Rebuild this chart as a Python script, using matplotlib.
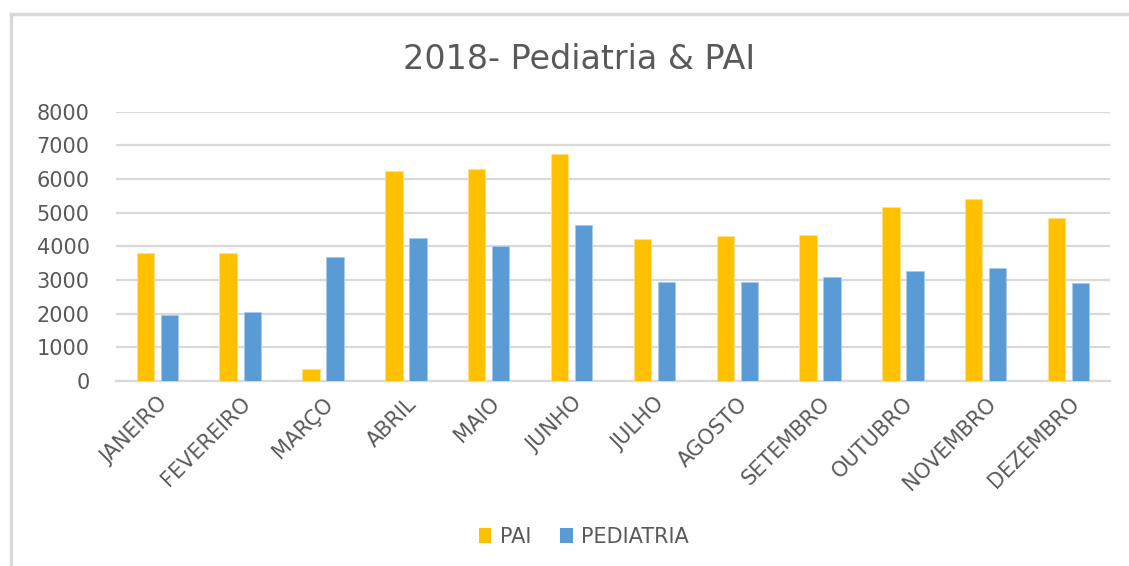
import numpy as np
import matplotlib
matplotlib.use("Agg")
import matplotlib.pyplot as plt
from matplotlib.lines import Line2D
from matplotlib.patches import Patch

# data
meses = ["JANEIRO", "FEVEREIRO", "MARÇO", "ABRIL", "MAIO", "JUNHO",
         "JULHO", "AGOSTO", "SETEMBRO", "OUTUBRO", "NOVEMBRO", "DEZEMBRO"]
pai = [3790, 3790, 355, 6220, 6290, 6745, 4200, 4300, 4340, 5160, 5415, 4850]
pediatria = [1950, 2050, 3680, 4230, 4010, 4635, 2940, 2940, 3100, 3275, 3355, 2900]
y_ticks = [0, 1000, 2000, 3000, 4000, 5000, 6000, 7000, 8000]

# look
C_PAI = "#FFC000"
C_PED = "#5B9BD5"
C_GRID = "#D9D9D9"
C_TEXT = "#595959"
BAR_W = 0.21
OFFSET = 0.145

plt.rcParams["font.family"] = ["DejaVu Sans"]

fig = plt.figure(figsize=(11.29, 5.66), dpi=100)
ax = fig.add_axes([0.1027, 0.327, 0.8805, 0.476])

x = np.arange(len(meses))
ax.bar(x - OFFSET, pai, width=BAR_W, color=C_PAI, edgecolor="#FFE08A", linewidth=0.6, zorder=3, label="PAI")
ax.bar(x + OFFSET, pediatria, width=BAR_W, color=C_PED, edgecolor="#A9CBEA", linewidth=0.6, zorder=3, label="PEDIATRIA")

ax.set_xlim(-0.5, len(meses) - 0.5)
ax.set_ylim(0, 8000)
ax.set_yticks(y_ticks)
ax.set_yticklabels([str(v) for v in y_ticks], fontsize=15, color=C_TEXT)
ax.yaxis.grid(True, color=C_GRID, linewidth=1.6, zorder=0)
ax.set_axisbelow(True)
ax.set_xticks(x)
ax.set_xticklabels(meses, rotation=45, ha="right", rotation_mode="anchor", fontsize=15, color=C_TEXT)
ax.tick_params(axis="both", length=0)
ax.tick_params(axis="y", pad=19)
ax.tick_params(axis="x", pad=9)
for s in ["top", "right", "left"]:
    ax.spines[s].set_visible(False)
ax.spines["bottom"].set_color(C_GRID)
ax.spines["bottom"].set_linewidth(1.6)

fig.text(0.513, 0.894, "2018- Pediatria & PAI", ha="center", va="center", fontsize=24, color=C_TEXT)

handles = [Patch(facecolor=C_PAI, edgecolor="none"), Patch(facecolor=C_PED, edgecolor="none")]
fig.legend(handles, ["PAI", "PEDIATRIA"], loc="center", bbox_to_anchor=(0.517, 0.051), ncol=2,
           frameon=False, fontsize=15, handlelength=0.6, handleheight=0.75, handletextpad=0.4,
           columnspacing=1.4, labelcolor=C_TEXT)

# chart frame (top + left edges visible)
fig.add_artist(Line2D([0.0097, 1.0], [0.975, 0.975], color=C_GRID, linewidth=2.5, transform=fig.transFigure))
fig.add_artist(Line2D([0.0097, 0.0097], [0.0, 0.975], color=C_GRID, linewidth=2.5, transform=fig.transFigure))

fig.savefig("out.png", dpi=100)
